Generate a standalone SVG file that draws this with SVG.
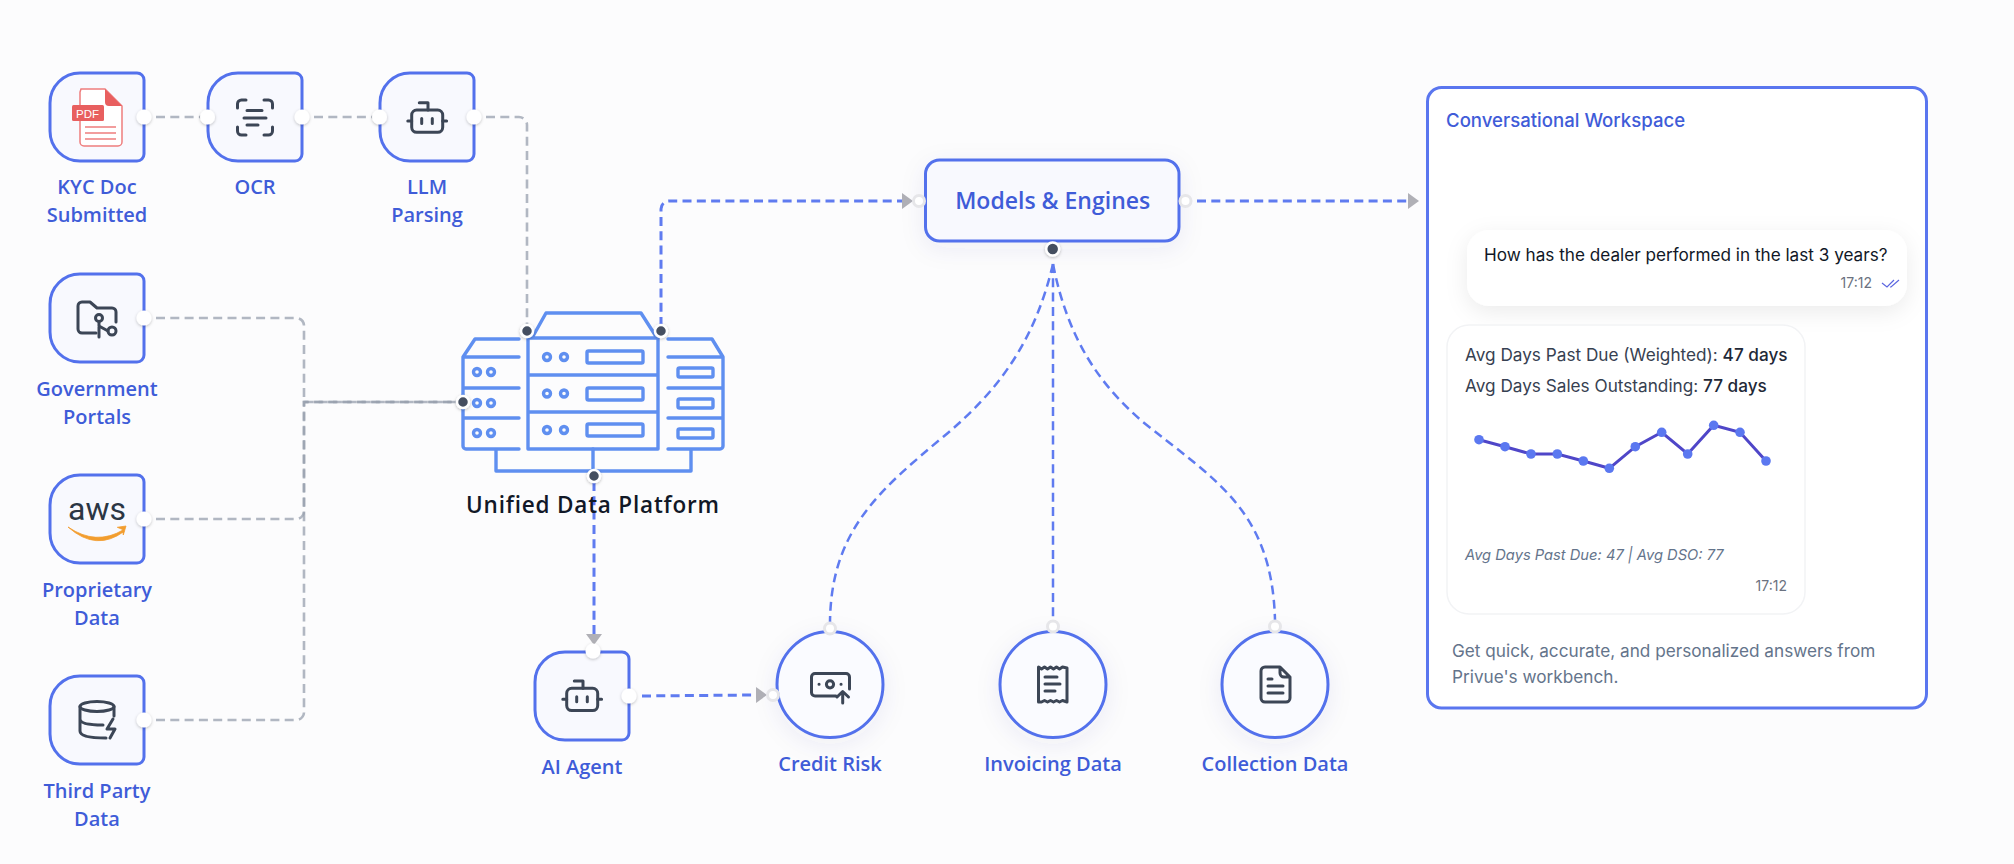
<svg xmlns="http://www.w3.org/2000/svg" xmlns:xlink="http://www.w3.org/1999/xlink" width="2014" height="864" viewBox="0 0 2014 864">
<style>
text{font-family:"Open Sans","Noto Sans",sans-serif}
.lbl{font-size:20px;font-weight:600;fill:#3f5cd8;text-anchor:middle}
.box{fill:#f8f9fe;stroke:#5371ec;stroke-width:3}
.circ{fill:#fafbff;stroke:#5371ec;stroke-width:3}
.ico{fill:none;stroke:#3c4656;stroke-width:3;stroke-linecap:round;stroke-linejoin:round}
.srv{fill:none;stroke:#5f8ff0;stroke-width:3.400;stroke-linecap:round;stroke-linejoin:round}
.g{fill:none;stroke:#98a0ae;stroke-opacity:.75;stroke-width:2.600;stroke-dasharray:9 5.300}
.b{fill:none;stroke:#5f7bf0;stroke-width:3;stroke-dasharray:9 5.300}
.bc{fill:none;stroke:#5f7bf0;stroke-width:2.500;stroke-dasharray:9 5.300}
.ho{fill:#fff;filter:url(#hs)}
.ht{fill:#fff;stroke:#e6e6e9;stroke-width:3}
.hd{fill:#454f60;stroke:#fff;stroke-width:2.500;filter:url(#hs)}
.in{font-family:Inter,"Liberation Sans",sans-serif}
</style>
<defs>
<filter id="hs" x="-50%" y="-50%" width="200%" height="200%"><feDropShadow dx="0" dy="1" stdDeviation="1.500" flood-color="#000" flood-opacity=".25"/></filter>
<filter id="ns" x="-30%" y="-30%" width="160%" height="170%"><feDropShadow dx="0" dy="6" stdDeviation="12" flood-color="#3a4a80" flood-opacity=".07"/></filter>
<filter id="bs" x="-10%" y="-30%" width="120%" height="180%"><feDropShadow dx="0" dy="6" stdDeviation="11" flood-color="#000" flood-opacity=".08"/></filter>
<marker id="arr" markerUnits="userSpaceOnUse" markerWidth="12" markerHeight="18" refX="0" refY="9" orient="auto"><path d="M0 1L11 9L0 17Z" fill="#b0b0b6"/></marker>
<path id="shape" d="M30 0H87a7 7 0 0 1 7 7V81a7 7 0 0 1-7 7H30A30 30 0 0 1 0 58V30A30 30 0 0 1 30 0Z"/>
<g id="robot" class="ico"><rect x="411.700" y="110" width="31" height="22.300" rx="5"/><path d="M419.300 102.700H428V110M407.800 121H411.700M442.700 121H446.600M421.700 118.500V123.500M432.300 118.500V123.500"/></g>
</defs>
<rect width="2014" height="864" fill="#fcfcfd"/>

<g id="connectors">
<path class="g" d="M156 117H202"/>
<path class="g" d="M314 117H374"/>
<path class="g" d="M486 117H519a8 8 0 0 1 8 8V326"/>
<path class="g" d="M156 318H296a8 8 0 0 1 8 8V402H458"/>
<path class="g" d="M156 519H296a8 8 0 0 0 8-8V402H458"/>
<path class="g" d="M156 720H296a8 8 0 0 0 8-8V402H458"/>
<path class="b" d="M661 326V209a8 8 0 0 1 8-8H902" marker-end="url(#arr)"/>
<path class="b" d="M1197 201H1408" marker-end="url(#arr)"/>
<path class="b" d="M594 482V634" marker-end="url(#arr)"/>
<path class="b" d="M642 696L756 695" marker-end="url(#arr)"/>
<path class="bc" d="M1053 264C1035 340 1000 390 943 437C880 490 831 530 830 622"/>
<path class="bc" d="M1053 264V622"/>
<path class="bc" d="M1053 264C1068 340 1100 385 1143 422C1215 480 1272 510 1275 620"/>
</g>

<g id="kyc"><use xlink:href="#shape" href="#shape" class="box" transform="translate(50 73)"/>
<path d="M81 89H105L122 106V142a4 4 0 0 1-4 4H84a4 4 0 0 1-4-4V92Z" fill="#fff" stroke="#ee7d7d" stroke-width="1.500"/>
<path d="M105 89L122 106H109a4 4 0 0 1-4-4Z" fill="#e85f5f"/>
<rect x="72" y="105" width="32" height="16" rx="1.500" fill="#e85f5f"/>
<text x="87.500" y="117.500" font-size="11.500" font-weight="400" fill="#fff" text-anchor="middle" style="font-family:'Liberation Sans',sans-serif">PDF</text>
<path d="M85 127H116M85 133H116M85 139H116" stroke="#ee7d7d" stroke-width="1.600" fill="none"/>
<text class="lbl" x="97" y="194">KYC Doc</text><text class="lbl" x="97" y="222">Submitted</text>
<circle class="ho" cx="144" cy="117" r="7.500"/></g>

<g id="ocr"><use xlink:href="#shape" href="#shape" class="box" transform="translate(208 73)"/>
<path class="ico" d="M237.500 108V104a4 4 0 0 1 4-4H246M264 100H268.500a4 4 0 0 1 4 4V108M272.500 127V131a4 4 0 0 1-4 4H264M246 135H241.500a4 4 0 0 1-4-4V127M247 110.500H262M244 118H266M247 125H258"/>
<text class="lbl" x="255" y="194">OCR</text>
<circle class="ho" cx="207.500" cy="117" r="7.500"/><circle class="ho" cx="302" cy="117" r="7.500"/></g>

<g id="llm"><use xlink:href="#shape" href="#shape" class="box" transform="translate(380 73)"/>
<use xlink:href="#robot" href="#robot"/>
<text class="lbl" x="427" y="194">LLM</text><text class="lbl" x="427" y="222">Parsing</text>
<circle class="ho" cx="379.500" cy="117" r="7.500"/><circle class="ho" cx="474" cy="117" r="7.500"/></g>

<g id="gov"><use xlink:href="#shape" href="#shape" class="box" transform="translate(50 274)"/>
<path class="ico" d="M96 333H82a4 4 0 0 1-4-4V306a4 4 0 0 1 4-4H90L97 308H112a4 4 0 0 1 4 4V322"/>
<circle class="ico" cx="99" cy="318" r="3.500"/><circle class="ico" cx="112" cy="331" r="4"/><path class="ico" d="M99 322V337M99 326L108 331"/>
<text class="lbl" x="97" y="395.500">Government</text><text class="lbl" x="97" y="423.500">Portals</text>
<circle class="ho" cx="144" cy="318" r="7.500"/></g>

<g id="aws"><use xlink:href="#shape" href="#shape" class="box" transform="translate(50 475)"/>
<text x="97" y="520" font-size="32" font-weight="400" fill="#2b3644" text-anchor="middle" style="font-family:Roboto,sans-serif">aws</text>
<path d="M68 527Q96 546 123 530L124 531.500Q96 552 68 527Z" fill="#f29d2e" stroke="#f29d2e" stroke-width=".8"/>
<path d="M117.300 527.300L126 526L123.300 535L122.500 529.500Z" fill="#f29d2e" stroke="#f29d2e" stroke-width=".8"/>
<text class="lbl" x="97" y="596.500">Proprietary</text><text class="lbl" x="97" y="624.500">Data</text>
<circle class="ho" cx="144" cy="519" r="7.500"/></g>

<g id="third"><use xlink:href="#shape" href="#shape" class="box" transform="translate(50 676)"/>
<ellipse class="ico" cx="97" cy="706.500" rx="17" ry="5"/>
<path class="ico" d="M80 706.500V731Q80 738 106 738M80 719Q80 725 103 725M114 706.500V716M113 719L107 729H115L110 738"/>
<text class="lbl" x="97" y="797.500">Third Party</text><text class="lbl" x="97" y="825.500">Data</text>
<circle class="ho" cx="144" cy="720" r="7.500"/></g>

<g id="platform">
<path class="srv" d="M528 338H658V449H528ZM532 338L546 313H641L657 338M528 375H658M528 412H658"/>
<circle class="srv" cx="547" cy="357" r="3.500"/><circle class="srv" cx="564" cy="357" r="3.500"/><rect class="srv" x="587" y="351" width="56" height="12" rx="1.500"/>
<circle class="srv" cx="547" cy="393.500" r="3.500"/><circle class="srv" cx="564" cy="393.500" r="3.500"/><rect class="srv" x="587" y="388" width="56" height="12" rx="1.500"/>
<circle class="srv" cx="547" cy="430" r="3.500"/><circle class="srv" cx="564" cy="430" r="3.500"/><rect class="srv" x="587" y="424" width="56" height="12" rx="1.500"/>
<path class="srv" d="M519 339H475L463 357V446a3 3 0 0 0 3 3H519M463 357H519M463 388H519M463 418H519"/>
<circle class="srv" cx="477" cy="372" r="3.500"/><circle class="srv" cx="491" cy="372" r="3.500"/><circle class="srv" cx="477" cy="403" r="3.500"/><circle class="srv" cx="491" cy="403" r="3.500"/><circle class="srv" cx="477" cy="433" r="3.500"/><circle class="srv" cx="491" cy="433" r="3.500"/>
<path class="srv" d="M668 339H712L723 357V446a3 3 0 0 1-3 3H668M668 357H723M668 388H723M668 418H723"/>
<rect class="srv" x="678" y="368" width="35" height="9" rx="1.500"/><rect class="srv" x="678" y="399" width="35" height="9" rx="1.500"/><rect class="srv" x="678" y="429" width="35" height="9" rx="1.500"/>
<path class="srv" d="M496 450V471H691V450M593 449V471"/>
<text x="593" y="513" font-size="22.500" font-weight="600" letter-spacing=".8" fill="#111827" text-anchor="middle">Unified Data Platform</text>
<circle class="hd" cx="527" cy="331" r="6"/><circle class="hd" cx="661" cy="331" r="6"/><circle class="hd" cx="463" cy="402" r="6"/><circle class="hd" cx="594" cy="476" r="6"/>
</g>

<g id="models"><rect class="box" x="925.500" y="160" width="253.500" height="81" rx="14" filter="url(#ns)"/>
<text x="1052.700" y="209" font-size="23" font-weight="600" fill="#3f5cd8" text-anchor="middle">Models &amp; Engines</text>
<circle class="ht" cx="919" cy="201" r="5.500"/><circle class="ht" cx="1185.500" cy="201" r="5.500"/>
<circle class="hd" cx="1052.700" cy="249" r="6.500"/></g>

<g id="agent"><use xlink:href="#shape" href="#shape" class="box" transform="translate(535 652)"/>
<use xlink:href="#robot" href="#robot" transform="translate(155 578.300)"/>
<text class="lbl" x="582" y="774">AI Agent</text>
<circle class="ho" cx="593" cy="651" r="7.500"/><circle class="ho" cx="629" cy="696" r="7.500"/></g>

<g id="credit"><circle class="circ" cx="830" cy="684.500" r="53" filter="url(#ns)"/>
<path class="ico" d="M836 696H815a3.500 3.500 0 0 1-3.500-3.500V677a3.500 3.500 0 0 1 3.500-3.500H846a3.500 3.500 0 0 1 3.500 3.500V689"/>
<circle class="ico" cx="830" cy="684.300" r="3.600"/><path class="ico" d="M819 684.300H819.100M841 684.300H841.100M842.700 703V692M837 697L842.700 691.500L848.500 697"/>
<text class="lbl" x="830" y="771">Credit Risk</text>
<circle class="ht" cx="830" cy="628.500" r="5.500"/><circle class="ht" cx="773" cy="695" r="5.500"/></g>

<g id="invoicing"><circle class="circ" cx="1053" cy="684.500" r="53" filter="url(#ns)"/>
<path class="ico" d="M1038.500 667L1041.500 669L1044.500 667L1047.500 669L1050.500 667L1053.500 669L1056.500 667L1059.500 669L1062.500 667L1067 668V702L1062.500 700.500L1059.500 702L1056.500 700.500L1053.500 702L1050.500 700.500L1047.500 702L1044.500 700.500L1041.500 702L1038.500 702ZM1045 677H1057M1045 684H1060M1045 691H1055"/>
<text class="lbl" x="1053" y="771">Invoicing Data</text>
<circle class="ht" cx="1053" cy="626.500" r="5.500"/></g>

<g id="collection"><circle class="circ" cx="1275" cy="684.500" r="53" filter="url(#ns)"/>
<path class="ico" d="M1280 667H1265a4 4 0 0 0-4 4V698a4 4 0 0 0 4 4H1286a4 4 0 0 0 4-4V677ZM1280 667V673a4 4 0 0 0 4 4H1290M1268 679H1272M1268 686H1283M1268 693H1283"/>
<text class="lbl" x="1275" y="771">Collection Data</text>
<circle class="ht" cx="1275" cy="626.500" r="5.500"/></g>

<g id="workspace"><rect x="1427.500" y="87.500" width="499" height="620.500" rx="14" fill="#fff" stroke="#5a76ef" stroke-width="3"/>
<text class="in" x="1446" y="127" font-size="18.600" font-weight="500" fill="#3f5cd8">Conversational Workspace</text>
<rect x="1467" y="230" width="440" height="76" rx="22" fill="#fff" filter="url(#bs)"/>
<text class="in" x="1484" y="261" font-size="17.150" fill="#111827">How has the dealer performed in the last 3 years?</text>
<text class="in" x="1872" y="288" font-size="14" fill="#6b7280" text-anchor="end">17:12</text>
<path d="M1882 283L1887 287L1894 280M1890 287L1891 287L1899 280" fill="none" stroke="#5b66e0" stroke-width="1.200"/>
<rect x="1447" y="325" width="358" height="289" rx="22" fill="#fff" stroke="#f2f3f5" stroke-width="1.500"/>
<text class="in" x="1465" y="361" font-size="17.200" fill="#374151">Avg Days Past Due (Weighted): <tspan font-weight="500" fill="#1f2937">47 days</tspan></text>
<text class="in" x="1465" y="392" font-size="17.200" fill="#374151">Avg Days Sales Outstanding: <tspan font-weight="500" fill="#1f2937">77 days</tspan></text>
<polyline points="1479,439.700 1505,446.700 1531,454 1557.300,454 1583.300,461 1609.300,468.300 1635.300,446.700 1661.700,432.300 1687.700,454 1713.700,425.300 1740,432.300 1766,461" fill="none" stroke="#4f46c8" stroke-width="3"/>
<g fill="#5b78f0"><circle cx="1479" cy="439.700" r="4.800"/><circle cx="1505" cy="446.700" r="4.800"/><circle cx="1531" cy="454" r="4.800"/><circle cx="1557.300" cy="454" r="4.800"/><circle cx="1583.300" cy="461" r="4.800"/><circle cx="1609.300" cy="468.300" r="4.800"/><circle cx="1635.300" cy="446.700" r="4.800"/><circle cx="1661.700" cy="432.300" r="4.800"/><circle cx="1687.700" cy="454" r="4.800"/><circle cx="1713.700" cy="425.300" r="4.800"/><circle cx="1740" cy="432.300" r="4.800"/><circle cx="1766" cy="461" r="4.800"/></g>
<text class="in" x="1465" y="560" font-size="14.700" font-style="italic" fill="#64748b">Avg Days Past Due: 47 | Avg DSO: 77</text>
<text class="in" x="1787" y="591" font-size="14" fill="#6b7280" text-anchor="end">17:12</text>
<text class="in" x="1452" y="657" font-size="17.200" fill="#64748b">Get quick, accurate, and personalized answers from</text>
<text class="in" x="1452" y="683" font-size="17.200" fill="#64748b">Privue's workbench.</text>
</g>
</svg>
